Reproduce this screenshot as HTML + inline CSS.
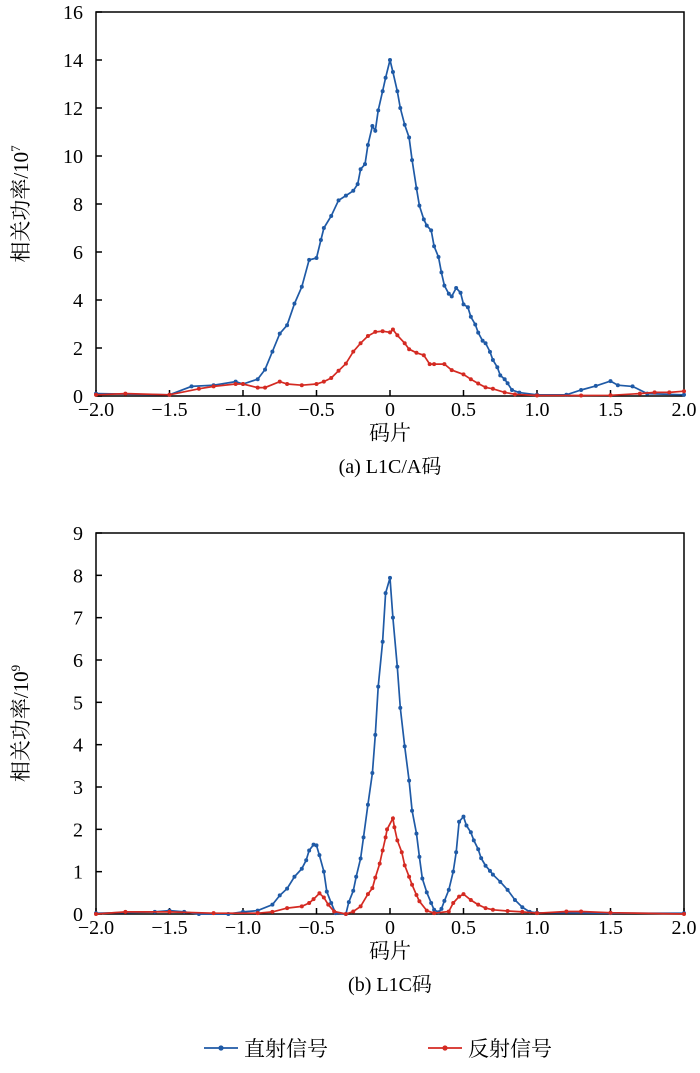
<!DOCTYPE html>
<html><head><meta charset="utf-8"><style>
html,body{margin:0;padding:0;background:#fff;}
svg{display:block;font-family:"Liberation Serif","Noto Serif CJK SC",serif;}
</style></head><body>
<svg id="c" width="700" height="1073" viewBox="0 0 700 1073"></svg>
<script>
const xTicks=[-2,-1.5,-1,-0.5,0,0.5,1,1.5,2];
const xTickLabels=["\u22122.0","\u22121.5","\u22121.0","\u22120.5","0","0.5","1.0","1.5","2.0"];
const yTicksA=[0,2,4,6,8,10,12,14,16];
const yTicksB=[0,1,2,3,4,5,6,7,8,9];
const aDirectX=[-2,-1.5,-1.35,-1.2,-1.05,-1,-0.9,-0.85,-0.8,-0.75,-0.7,-0.65,-0.6,-0.55,-0.5,-0.47,-0.45,-0.4,-0.35,-0.3,-0.25,-0.22,-0.2,-0.17,-0.15,-0.12,-0.1,-0.08,-0.05,-0.03,0,0.02,0.05,0.07,0.1,0.13,0.15,0.18,0.2,0.23,0.25,0.28,0.3,0.33,0.35,0.37,0.4,0.42,0.45,0.48,0.5,0.53,0.55,0.58,0.6,0.63,0.65,0.68,0.7,0.73,0.75,0.78,0.8,0.83,0.88,1,1.2,1.3,1.4,1.5,1.55,1.65,1.75,2];
const aDirectY=[0.1,0.05,0.4,0.45,0.6,0.5,0.7,1.1,1.85,2.6,2.95,3.85,4.55,5.67,5.75,6.5,7,7.5,8.15,8.35,8.55,8.83,9.45,9.66,10.46,11.25,11.05,11.9,12.7,13.26,14,13.5,12.7,12,11.3,10.77,9.83,8.65,7.93,7.36,7.1,6.9,6.24,5.79,5.15,4.6,4.26,4.15,4.5,4.3,3.82,3.7,3.3,2.98,2.64,2.3,2.2,1.84,1.5,1.2,0.86,0.7,0.53,0.25,0.14,0.05,0.05,0.25,0.42,0.62,0.45,0.4,0.1,0.05];
const aReflX=[-2,-1.8,-1.5,-1.3,-1.2,-1.05,-1,-0.9,-0.85,-0.75,-0.7,-0.6,-0.5,-0.45,-0.4,-0.35,-0.3,-0.25,-0.2,-0.15,-0.1,-0.05,0,0.02,0.05,0.1,0.13,0.18,0.23,0.27,0.3,0.37,0.42,0.5,0.55,0.6,0.65,0.7,0.78,0.85,1,1.3,1.5,1.7,1.8,1.9,2];
const aReflY=[0.05,0.1,0.05,0.3,0.4,0.5,0.5,0.35,0.35,0.6,0.5,0.45,0.5,0.6,0.75,1.05,1.35,1.85,2.2,2.5,2.67,2.7,2.65,2.77,2.53,2.2,1.95,1.8,1.7,1.33,1.33,1.33,1.08,0.9,0.7,0.52,0.36,0.3,0.15,0.07,0.02,0.02,0.03,0.1,0.15,0.15,0.2];
const bDirectX=[-2,-1.6,-1.5,-1.4,-1.3,-1.1,-1,-0.9,-0.8,-0.75,-0.7,-0.65,-0.6,-0.57,-0.55,-0.52,-0.5,-0.48,-0.45,-0.43,-0.4,-0.37,-0.3,-0.28,-0.25,-0.23,-0.2,-0.18,-0.15,-0.12,-0.1,-0.08,-0.05,-0.03,0,0.02,0.05,0.07,0.1,0.13,0.15,0.18,0.2,0.22,0.25,0.28,0.3,0.33,0.35,0.37,0.4,0.43,0.45,0.47,0.5,0.52,0.55,0.57,0.6,0.62,0.65,0.68,0.7,0.75,0.8,0.85,0.9,0.95,1,1.5,2];
const bDirectY=[0.02,0.05,0.08,0.05,0,0,0.05,0.08,0.22,0.44,0.6,0.88,1.07,1.27,1.5,1.64,1.62,1.39,1,0.53,0.26,0.02,0,0.28,0.55,0.88,1.31,1.81,2.58,3.33,4.23,5.37,6.43,7.58,7.94,7,5.84,4.87,3.96,3.15,2.44,1.9,1.35,0.84,0.51,0.26,0.1,0.04,0.12,0.31,0.57,1,1.46,2.18,2.3,2.09,1.93,1.74,1.53,1.32,1.14,1.02,0.93,0.76,0.57,0.33,0.16,0.05,0.03,0.02,0.02];
const bReflX=[-2,-1.8,-1.5,-1.2,-0.9,-0.8,-0.7,-0.6,-0.55,-0.52,-0.48,-0.45,-0.42,-0.38,-0.3,-0.25,-0.2,-0.15,-0.12,-0.1,-0.07,-0.05,-0.03,-0.02,0.02,0.03,0.05,0.08,0.1,0.13,0.15,0.18,0.2,0.25,0.3,0.4,0.43,0.47,0.5,0.55,0.6,0.65,0.7,0.8,0.9,1,1.2,1.3,1.5,2];
const bReflY=[0,0.05,0.05,0.02,0.02,0.05,0.14,0.18,0.26,0.35,0.49,0.39,0.22,0.06,0,0.06,0.18,0.47,0.61,0.86,1.19,1.5,1.81,2,2.26,2.05,1.74,1.46,1.15,0.88,0.69,0.45,0.3,0.08,0.02,0.06,0.26,0.41,0.47,0.33,0.22,0.14,0.1,0.07,0.05,0.02,0.06,0.06,0.03,0];

const NS="http://www.w3.org/2000/svg";
const svg=document.getElementById('c');
function mk(tag,attrs,parent){const e=document.createElementNS(NS,tag);for(const k in attrs)e.setAttribute(k,attrs[k]);(parent||svg).appendChild(e);return e;}
const L=96,R=684;
const BLUE="#1f5aa6",RED="#d42a22";
function xs(v){return L+(v+2)/4*(R-L);}
function panel(name,top,bot,ymax,yTicks,series,lbl,pow){
  const g=mk('g',{});
  
  
  const ys=v=>bot-v/ymax*(bot-top);
  const fr=mk('rect',{x:L,y:top,width:R-L,height:bot-top,fill:'none',stroke:'#000','stroke-width':1.5},g);
  
  
  xTicks.forEach((t,i)=>{
    const tk=mk('line',{x1:xs(t),x2:xs(t),y1:bot,y2:bot-6,stroke:'#000','stroke-width':1.5},g);
    
    
    const tx=mk('text',{x:xs(t),y:bot+20,'text-anchor':'middle','font-size':20},g);
    
    
    tx.textContent=xTickLabels[i];
  });
  yTicks.forEach(t=>{
    const tk=mk('line',{x1:L,x2:L+6,y1:ys(t),y2:ys(t),stroke:'#000','stroke-width':1.5},g);
    
    
    const tx=mk('text',{x:L-13,y:ys(t)+7,'text-anchor':'end','font-size':20},g);
    
    
    tx.textContent=t;
  });
  series.forEach(s=>{
    const pts=s.x.map((v,i)=>xs(v).toFixed(1)+','+ys(s.y[i]).toFixed(1)).join(' ');
    const pl=mk('polyline',{points:pts,fill:'none',stroke:s.c,'stroke-width':1.7},g);
    
    
    s.x.forEach((v,i)=>{
      const c=mk('circle',{cx:xs(v),cy:ys(s.y[i]),r:2,fill:s.c},g);
      
      
    });
  });
  const cy=(top+bot)/2;
  const yl=mk('text',{x:0,y:0,'text-anchor':'middle','font-size':21,transform:`translate(28,${cy}) rotate(-90)`},g);
  
  
  yl.innerHTML='相关功率/10<tspan dy="-8" font-size="13">'+pow+'</tspan>';
  const xl=mk('text',{x:390,y:bot+44,'text-anchor':'middle','font-size':21},g);
  
  
  xl.textContent='码片';
  const cap=mk('text',{x:390,y:bot+77,'text-anchor':'middle','font-size':20},g);
  
  
  cap.textContent=lbl;
}
panel('panel-a-l1ca',12,396,16,yTicksA,[{x:aDirectX,y:aDirectY,c:BLUE,n:'direct-a'},{x:aReflX,y:aReflY,c:RED,n:'reflected-a'}],'(a) L1C/A码','7');
panel('panel-b-l1c',533,914,9,yTicksB,[{x:bDirectX,y:bDirectY,c:BLUE,n:'direct-b'},{x:bReflX,y:bReflY,c:RED,n:'reflected-b'}],'(b) L1C码','9');
const lg=mk('g',{});


[[204,BLUE,'直射信号','legend-direct'],[428,RED,'反射信号','legend-reflected']].forEach(a=>{
  const e=mk('g',{},lg);
  
  
  mk('line',{x1:a[0],x2:a[0]+34,y1:1048,y2:1048,stroke:a[1],'stroke-width':1.7},e);
  mk('circle',{cx:a[0]+17,cy:1048,r:2.6,fill:a[1]},e);
  const t=mk('text',{x:a[0]+40,y:1056,'font-size':21},e);
  t.textContent=a[2];
});
</script>
</body></html>
